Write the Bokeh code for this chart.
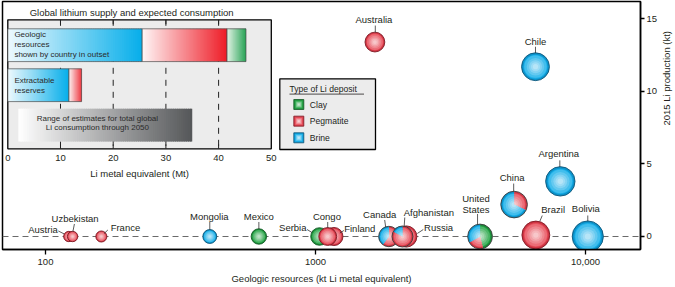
import numpy as np
from bokeh.plotting import figure
from bokeh.models import Range1d, FixedTicker, Span, LinearScale
from bokeh.embed import file_html
from bokeh.resources import INLINE
from bokeh.core.properties import value

# ------------------------------------------------------------------ data
countries = ["Austria", "Uzbekistan", "France", "Mongolia", "Mexico", "Serbia",
             "Finland", "Congo", "Canada", "Russia", "Afghanistan",
             "United States", "China", "Brazil", "Chile", "Argentina",
             "Bolivia", "Australia"]
resources_kt = [122, 126, 161, 406, 617, 1035, 1170, 1110, 1870, 2170, 2100,
                4070, 5440, 6550, 6530, 8070, 10200, 1660]
production_kt = [0, 0, 0, 0, 0, 0, 0, 0, 0, 0, 0,
                 0, 2.2, 0.1, 11.7, 3.8, 0, 13.4]
clay_share = [0, 0, 0, 0, 1, 1, 0, 0, 0, 0, 0,
              0.46, 0, 0, 0, 0, 0, 0]
pegmatite_share = [1, 1, 1, 0, 0, 0, 1, 1, 0.6, 1, 0.83,
                   0.21, 0.32, 1, 0, 0, 0, 1]
brine_share = [0, 0, 0, 1, 0, 0, 0, 0, 0.4, 0, 0.17,
               0.33, 0.68, 0, 1, 1, 1, 0]

deposit_types = ["Clay", "Pegmatite", "Brine"]
stack_order = ["Brine", "Pegmatite", "Clay"]
geologic_mt = {"Brine": 25.5, "Pegmatite": 16.1, "Clay": 3.6}
reserves_mt = {"Brine": 11.6, "Pegmatite": 2.4, "Clay": 0.0}
consumption_range_mt = [2, 35]
inset_ticks = [0, 10, 20, 30, 40, 50]
x_ticks = [100, 1000, 10000]
x_tick_labels = ["100", "1000", "10,000"]
y_ticks = [0, 5, 10, 15]

# ------------------------------------------------------------------ styles
FONT = "Liberation Sans"
TXT = "#231f20"
TYPE_COLOR = {"Clay": "#2aa84a", "Pegmatite": "#e8505c", "Brine": "#1cb1ea"}
TYPE_EDGE = {"Clay": "#1b8a38", "Pegmatite": "#cf3543", "Brine": "#0b93cb"}
TYPE_LINE = {"Clay": "#145c27", "Pegmatite": "#7d1a24", "Brine": "#0f5577"}
BAR_GRAD = {"Brine": ("#eef9fd", "#06aeea"), "Pegmatite": ("#fff6f6", "#ee1c27"),
            "Clay": ("#e2f3e6", "#0d9a42")}
CONS_GRAD = ("#ffffff", "#555759")

FRAME_W, FRAME_H = 638, 248
X_RANGE = (69.3, 15990.0)
Y_RANGE = (-0.896, 16.195)
PX_PER_DECADE = FRAME_W / np.log10(X_RANGE[1] / X_RANGE[0])
PX_PER_KT = FRAME_H / (Y_RANGE[1] - Y_RANGE[0])


def mix(c0, c1, t):
    a = np.array([int(c0[k:k + 2], 16) for k in (1, 3, 5)], float)
    b = np.array([int(c1[k:k + 2], 16) for k in (1, 3, 5)], float)
    c = a + (b - a) * t
    return "#%02x%02x%02x" % tuple(int(round(v)) for v in c)


def off(x, y, dx, dy):
    """shift a data point by screen pixels (dy positive = down)"""
    return x * 10 ** (dx / PX_PER_DECADE), y - dy / PX_PER_KT


p = figure(frame_width=FRAME_W, frame_height=FRAME_H, x_axis_type="log",
           x_range=Range1d(*X_RANGE), y_range=Range1d(*Y_RANGE),
           y_axis_location="right", output_backend="svg", toolbar_location=None,
           min_border_left=2, min_border_top=1, min_border_right=35,
           min_border_bottom=38, background_fill_color="white")
p.extra_x_ranges = {"ix": Range1d(-1.0057, 120.06), "sx": Range1d(2, 640)}
p.extra_y_ranges = {"iy": Range1d(5.1075, -1.0925), "sy": Range1d(249, 1)}
p.extra_x_scales = {"ix": LinearScale(), "sx": LinearScale()}
p.extra_y_scales = {"iy": LinearScale(), "sy": LinearScale()}
p.xgrid.visible = False
p.ygrid.visible = False
p.outline_line_color = "black"
p.outline_line_width = 1.5

# axes
xa = p.xaxis[0]
xa.ticker = FixedTicker(ticks=x_ticks, minor_ticks=[])
xa.major_label_overrides = dict(zip(x_ticks, x_tick_labels))
xa.axis_label = "Geologic resources (kt Li metal equivalent)"
ya = p.yaxis[0]
ya.ticker = FixedTicker(ticks=y_ticks, minor_ticks=[])
ya.axis_label = "2015 Li production (kt)"
try:
    ya.axis_label_orientation = float(np.pi / 2)
except Exception:
    pass
for ax in (xa, ya):
    ax.axis_line_width = 1.5
    ax.major_tick_line_width = 1.3
    ax.major_tick_in = 0
    ax.minor_tick_line_color = None
    ax.major_label_text_font = FONT
    ax.major_label_text_font_size = "9.5px"
    ax.major_label_text_color = TXT
    ax.axis_label_text_font = FONT
    ax.axis_label_text_font_size = "9.5px"
    ax.axis_label_text_font_style = "normal"
    ax.axis_label_text_color = TXT
xa.major_tick_out = 5
xa.major_label_standoff = 4
xa.axis_label_standoff = 5
ya.major_tick_out = 4
ya.major_label_standoff = 2
ya.axis_label_standoff = 6

# zero line
p.add_layout(Span(location=0, dimension="width", line_color="#6a6a6a",
                  line_width=1.2, line_dash="6 4", level="underlay"))

# ------------------------------------------------------------------ inset
IX = dict(x_range_name="ix", y_range_name="iy")
BOX_T, BOX_B = -0.635, 2.59
BAR_H = 0.82
p.quad(left=[inset_ticks[0]], right=[inset_ticks[-1]], top=[BOX_T], bottom=[BOX_B],
       fill_color="#ececec", line_color="black", line_width=1.3, **IX)
mid = inset_ticks[1:-1]
p.segment(x0=mid, y0=[BOX_T] * len(mid), x1=mid, y1=[BOX_B] * len(mid),
          line_color="#222222", line_width=1, line_dash="6 6", **IX)
p.segment(x0=mid, y0=[BOX_T] * len(mid), x1=mid, y1=[BOX_T + 0.11] * len(mid),
          line_color="#222222", line_width=1, **IX)
p.segment(x0=mid, y0=[BOX_B] * len(mid), x1=mid, y1=[BOX_B - 0.11] * len(mid),
          line_color="#222222", line_width=1, **IX)


def gradient_bar(x0, x1, row, c0, c1, n=60, outline=True):
    if x1 <= x0:
        return
    edges = np.linspace(x0, x1, n + 1)
    w = edges[1] - edges[0]
    lefts = edges[:-1]
    rights = np.minimum(edges[1:] + 0.6 * w, x1)
    cols = [mix(c0, c1, (k + 0.5) / n) for k in range(n)]
    p.quad(left=lefts, right=rights, top=[row - BAR_H / 2] * n,
           bottom=[row + BAR_H / 2] * n, fill_color=cols, line_color=None, **IX)
    if outline:
        p.quad(left=[x0], right=[x1], top=[row - BAR_H / 2], bottom=[row + BAR_H / 2],
               fill_color=None, line_color="#4a4a4a", line_width=0.7, **IX)


for row, vals in ((0, geologic_mt), (1, reserves_mt)):
    start = 0.0
    for t in stack_order:
        gradient_bar(start, start + vals[t], row, *BAR_GRAD[t])
        start += vals[t]
gradient_bar(consumption_range_mt[0], consumption_range_mt[1], 2, *CONS_GRAD,
             n=80, outline=False)


def itext(x, y, s, dy=0, align="left", size="8px"):
    p.text(x=[x], y=[y], text=[s], y_offset=dy, text_align=align,
           text_baseline="middle", text_font=value(FONT), text_font_size=size,
           text_color="#2b2b2b", **IX)


itext(1.25, 0, "Geologic", dy=-10.4)
itext(1.25, 0, "resources", dy=-0.7)
itext(1.25, 0, "shown by country in outset", dy=9.4)
itext(1.25, 1, "Extractable", dy=-4.5)
itext(1.25, 1, "reserves", dy=4.8)
itext(17, 2, "Range of estimates for total global", dy=-6.7, align="center")
itext(17, 2, "Li consumption through 2050", dy=2.4, align="center")

p.text(x=[23.5], y=[-0.825], text=["Global lithium supply and expected consumption"],
       text_align="center", text_baseline="middle", text_font=value(FONT),
       text_font_size="9.5px", text_color=TXT, **IX)
p.text(x=inset_ticks, y=[2.815] * len(inset_ticks), text=[str(t) for t in inset_ticks],
       text_align="center", text_baseline="middle", text_font=value(FONT),
       text_font_size="9.5px", text_color=TXT, **IX)
p.text(x=[25], y=[3.2], text=["Li metal equivalent (Mt)"], text_align="center",
       text_baseline="middle", text_font=value(FONT), text_font_size="9.5px",
       text_color=TXT, **IX)

# ------------------------------------------------------------------ legend box
SX = dict(x_range_name="sx", y_range_name="sy")
p.quad(left=[279.3], right=[375], top=[78.3], bottom=[149], fill_color="#ececec",
       line_color="black", line_width=1.3, **SX)
p.text(x=[289], y=[88.3], text=["Type of Li deposit"], text_align="left",
       text_baseline="middle", text_font=value(FONT), text_font_size="8.6px",
       text_color=TXT, **SX)
p.segment(x0=[289], y0=[93.6], x1=[363.5], y1=[93.6], line_color=TXT,
          line_width=0.8, **SX)
for k, t in enumerate(deposit_types):
    yy = 104 + 16.65 * k
    p.scatter([298.3], [yy], marker="square", size=10, fill_color=TYPE_EDGE[t],
              line_color=TYPE_LINE[t], line_width=0.8, **SX)
    p.scatter([298.3], [yy], marker="square", size=8, fill_color=TYPE_COLOR[t],
              line_color=None, **SX)
    for f, a in ((6, 0.3), (4, 0.35), (2, 0.4)):
        p.scatter([298.3], [yy], marker="square", size=f, fill_color="white",
                  fill_alpha=a, line_color=None, **SX)
    p.text(x=[309.3], y=[yy], text=[t], text_align="left", text_baseline="middle",
           text_font=value(FONT), text_font_size="8.6px", text_color=TXT, **SX)

# ------------------------------------------------------------------ bubbles
LABELS = {
    "Austria": (["Austria"], "right", -11, -6.7, (-10.5, -5.5, -4.5, -2.5)),
    "Uzbekistan": (["Uzbekistan"], "center", 2.5, -17.7, (1.8, -12.5, 0.3, None)),
    "France": (["France"], "left", 9.3, -8.7, (6.5, -6.5, 2.8, -3)),
    "Mongolia": (["Mongolia"], "center", -0.5, -20, (0, -14.5, 0, None)),
    "Mexico": (["Mexico"], "center", 0, -20.3, (0, -14.5, 0, None)),
    "Serbia": (["Serbia"], "right", -13, -8.7, (-12.5, -7, -7.5, -4)),
    "Congo": (["Congo"], "center", -0.8, -20.3, (0, -14.5, 0, None)),
    "Finland": (["Finland"], "left", 10.3, -7.7, (10, -6, 6, -3.5)),
    "Canada": (["Canada"], "center", -9.2, -22, (-4.2, -16.5, -3.2, None)),
    "Afghanistan": (["Afghanistan"], "left", 1.3, -24.3, (2.3, -19, 1.7, None)),
    "Russia": (["Russia"], "left", 17.7, -8.7, (17, -7, 11, -3)),
    "United States": (["United", "States"], "center", -4.1, -38.3, (-2.5, -22.5, -2.5, None)),
    "China": (["China"], "center", -2, -27, (-0.4, -21, -0.4, None)),
    "Brazil": (["Brazil"], "left", 5.4, -26, (6.4, -19.5, 4, -13.8)),
    "Chile": (["Chile"], "center", 0, -25.7, (0, -20, 0, None)),
    "Argentina": (["Argentina"], "center", -1.5, -27.7, (-0.5, -21, -0.5, None)),
    "Bolivia": (["Bolivia"], "center", -2, -27.7, (0, -21, 0, None)),
    "Australia": (["Australia"], "center", -1, -22.3, (0.4, -16.5, 0.4, None)),
}
HIGHLIGHT = [(0.80, 0.17), (0.63, 0.18), (0.47, 0.2), (0.33, 0.22), (0.19, 0.26)]


def bubble_diameter(res):
    return 3.1 * res ** 0.25


for i, name in enumerate(countries):
    x, y = resources_kt[i], production_kt[i]
    d = bubble_diameter(x)
    r = d / 2
    shares = {"Clay": clay_share[i], "Pegmatite": pegmatite_share[i],
              "Brine": brine_share[i]}
    present = [t for t in deposit_types if shares[t] > 0]
    if len(present) == 1:
        t = present[0]
        p.scatter([x], [y], size=d, fill_color=TYPE_EDGE[t], line_color=None)
        p.scatter([x], [y], size=d * 0.86, fill_color=TYPE_COLOR[t], line_color=None)
        lc = TYPE_LINE[t]
    else:
        cum = 0.0
        for t in deposit_types:
            s = shares[t]
            if s <= 0:
                continue
            a0 = np.pi / 2 - 2 * np.pi * cum
            a1 = np.pi / 2 - 2 * np.pi * (cum + s)
            p.wedge(x=[x], y=[y], radius=r, radius_units="screen", start_angle=a0,
                    end_angle=a1, direction="clock", fill_color=TYPE_EDGE[t],
                    line_color=None)
            p.wedge(x=[x], y=[y], radius=r * 0.86, radius_units="screen",
                    start_angle=a0, end_angle=a1, direction="clock",
                    fill_color=TYPE_COLOR[t], line_color=None)
            cum += s
        lc = "#3a3a3a"
    for f, a in HIGHLIGHT:
        p.scatter([x], [y], size=d * f, fill_color="white", fill_alpha=a,
                  line_color=None)
    p.scatter([x], [y], size=d, fill_color=None, line_color=lc, line_width=0.9)

# labels and leaders (drawn after all bubbles)
for i, name in enumerate(countries):
    x, y = resources_kt[i], production_kt[i]
    r = bubble_diameter(x) / 2
    lines, align, dx, dy, (lx0, ly0, lx1, ly1) = LABELS[name]
    if ly1 is None:
        ly1 = -np.sqrt(max(r * r - lx1 * lx1, 0)) + 0.3
    xa0, ya0 = off(x, y, lx0, ly0)
    xa1, ya1 = off(x, y, lx1, ly1)
    p.segment(x0=[xa0], y0=[ya0], x1=[xa1], y1=[ya1], line_color="#333333",
              line_width=0.8)
    for k, s in enumerate(lines):
        p.text(x=[x], y=[y], text=[s], x_offset=dx, y_offset=dy + 11.6 * k,
               text_align=align, text_baseline="middle", text_font=value(FONT),
               text_font_size="9.5px", text_color=TXT)

open("out.html", "w").write(file_html(p, INLINE))
